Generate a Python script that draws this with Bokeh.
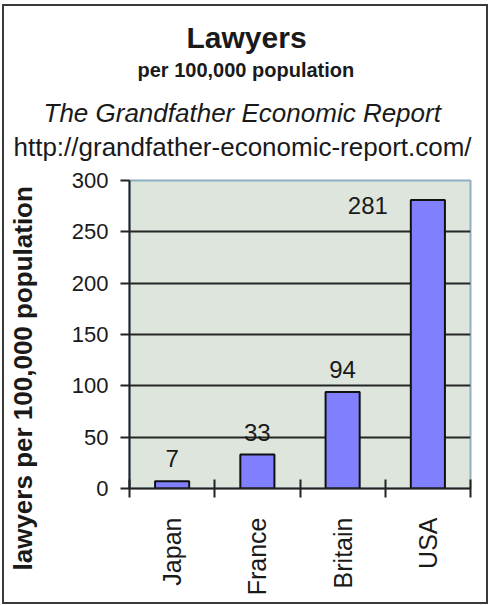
import math
from bokeh.plotting import figure
from bokeh.models import (ColumnDataSource, Range1d, FixedTicker, LabelSet, Title,
                          LinearAxis)
from bokeh.core.properties import value
from bokeh.embed import file_html
from bokeh.resources import INLINE

# ---- data ----
countries = ["Japan", "France", "Britain", "USA"]
lawyers = [7, 33, 94, 281]
y_ticks = [0, 50, 100, 150, 200, 250, 300]
grid_ticks = [50, 100, 150, 200, 250]
label_dx = [0, 0, 0, -60]      # label offsets (px)
label_dy = [14, 14, 14, -14]

FONT = "Liberation Sans"
INK = "#1a1a1a"

xpos = [i + 0.5 for i in range(len(countries))]
src = ColumnDataSource(dict(x=xpos, top=lawyers, txt=[str(v) for v in lawyers],
                            dx=label_dx, dy=label_dy))

p = figure(width=482, height=596, output_backend="svg", toolbar_location=None,
           x_range=Range1d(0, len(countries)), y_range=Range1d(0, 300),
           min_border_left=125, min_border_right=20, min_border_top=174,
           min_border_bottom=118, title=None)
p.styles = {"margin-left": "2px", "margin-top": "4px",
            "border": "2px solid #3a3a3a", "box-sizing": "content-box"}

p.background_fill_color = "#dde5dd"
p.border_fill_color = "white"
p.outline_line_color = "#8db0c2"
p.outline_line_width = 2

# grid
p.xgrid.visible = False
p.ygrid.ticker = FixedTicker(ticks=grid_ticks)
p.ygrid.grid_line_color = "#262626"
p.ygrid.grid_line_width = 2

# y axis
ya = p.yaxis[0]
ya.ticker = FixedTicker(ticks=y_ticks)
ya.axis_line_color = "#222222"
ya.axis_line_width = 2
ya.major_tick_line_color = "#222222"
ya.major_tick_line_width = 2
ya.major_tick_out = 9
ya.major_tick_in = 0
ya.minor_tick_out = 0
ya.minor_tick_in = 0
ya.major_label_standoff = 12
ya.major_label_text_font = FONT
ya.major_label_text_font_size = "22px"
ya.major_label_text_color = INK

# x axis: labels at centres, ticks at category boundaries
xa = p.xaxis[0]
xa.ticker = FixedTicker(ticks=xpos, minor_ticks=list(range(len(countries) + 1)))
xa.major_label_overrides = {x: c for x, c in zip(xpos, countries)}
xa.major_label_orientation = math.pi / 2
xa.axis_line_color = "#222222"
xa.axis_line_width = 2
xa.major_tick_out = 0
xa.major_tick_in = 0
xa.minor_tick_out = 9
xa.minor_tick_in = 9
xa.minor_tick_line_color = "#222222"
xa.minor_tick_line_width = 2
xa.major_label_standoff = 20
xa.major_label_text_font = FONT
xa.major_label_text_font_size = "25px"
xa.major_label_text_color = INK

# bars
p.vbar(x="x", top="top", width=0.4, source=src, fill_color="#8080ff",
       line_color="#111111", line_width=2)

# value labels
p.add_layout(LabelSet(x="x", y="top", text="txt", source=src, x_offset="dx", y_offset="dy",
                      text_align="center", text_baseline="alphabetic",
                      text_font=value(FONT), text_font_size="24px", text_color=INK))


def spacer(size, tick):
    # invisible axis used only to reserve room in a side panel
    return LinearAxis(ticker=FixedTicker(ticks=[tick]), axis_line_color=None,
                      major_tick_line_color=None, minor_tick_line_color=None,
                      major_tick_out=size, major_tick_in=0, minor_tick_out=0,
                      minor_tick_in=0, major_label_standoff=0,
                      major_label_text_color=None, major_label_text_font_size="1px")


def title(text, size, style, offset, standoff):
    return Title(text=text, align="left", offset=offset, standoff=standoff,
                 vertical_align="bottom", text_font=FONT, text_font_size=size,
                 text_font_style=style, text_color=INK)


# header (stacked upward from the frame)
p.add_layout(spacer(19, xpos[0]), "above")
p.add_layout(title("http://grandfather-economic-report.com/", "26px", "normal", -116, 0), "above")
p.add_layout(title("The Grandfather Economic Report", "26px", "italic", -86, 3), "above")
p.add_layout(spacer(14, xpos[0]), "above")
p.add_layout(title("per 100,000 population", "20px", "bold", 8, 0), "above")
p.add_layout(title("Lawyers", "30px", "bold", 57, 6), "above")

# y axis title
p.add_layout(spacer(30, y_ticks[0]), "left")
p.add_layout(title("lawyers per 100,000 population", "26px", "bold", -82, 2), "left")

open("out.html", "w").write(file_html(p, INLINE))
